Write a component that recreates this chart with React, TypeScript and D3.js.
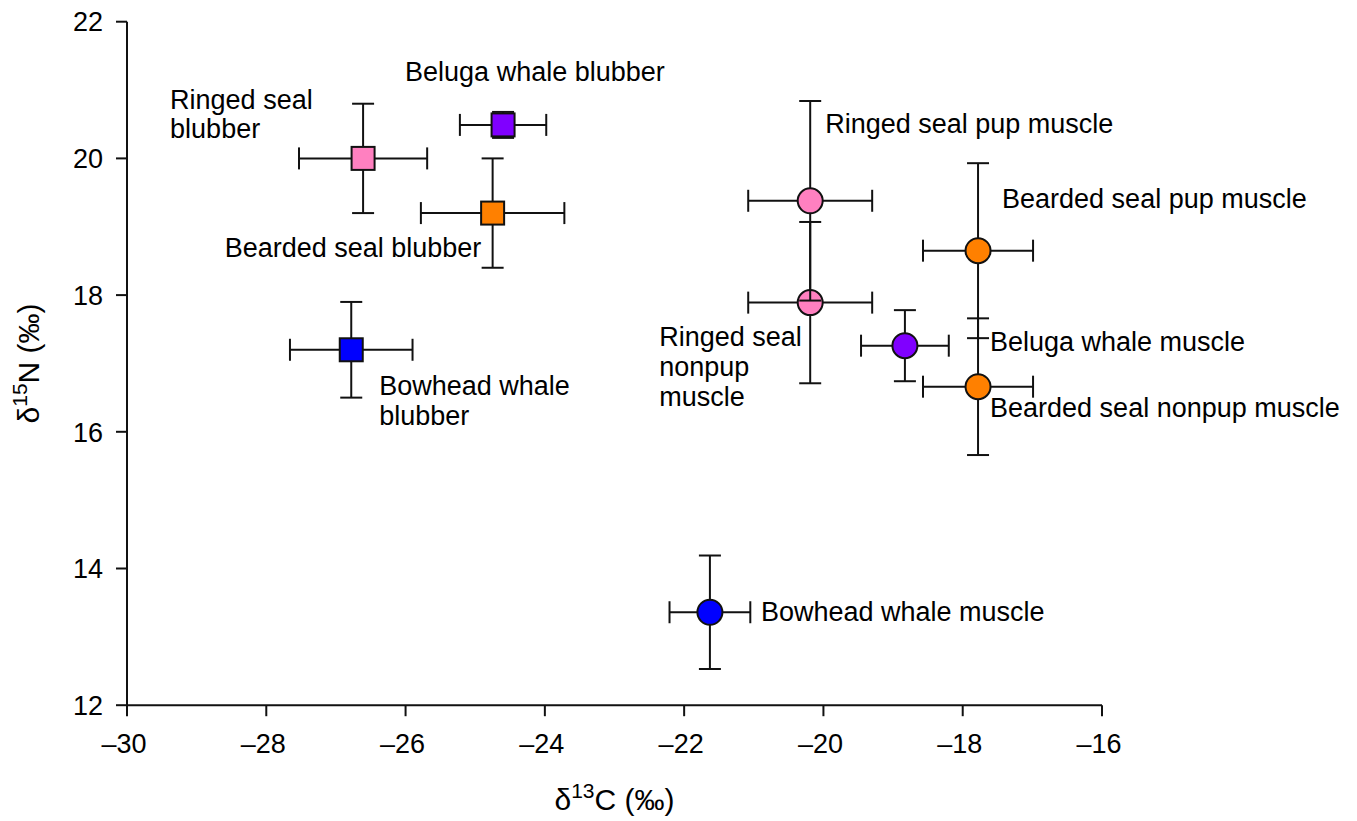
import React from "react";
import * as d3 from "d3";

// ---- data ----
const names = [
  "Ringed seal blubber",
  "Beluga whale blubber",
  "Bearded seal blubber",
  "Bowhead whale blubber",
  "Ringed seal nonpup muscle",
  "Ringed seal pup muscle",
  "Bearded seal pup muscle",
  "Beluga whale muscle",
  "Bearded seal nonpup muscle",
  "Bowhead whale muscle",
];
const labelLines = [
  ["Ringed seal", "blubber"],
  ["Beluga whale blubber"],
  ["Bearded seal blubber"],
  ["Bowhead whale", "blubber"],
  ["Ringed seal", "nonpup", "muscle"],
  ["Ringed seal pup muscle"],
  ["Bearded seal pup muscle"],
  ["Beluga whale muscle"],
  ["Bearded seal nonpup muscle"],
  ["Bowhead whale muscle"],
];
const d13C = [-26.61, -24.6, -24.75, -26.78, -20.19, -20.19, -17.78, -18.83, -17.78, -21.63];
const d15N = [20.0, 20.49, 19.2, 17.2, 17.89, 19.38, 18.65, 17.26, 16.66, 13.36];
const d13CErr = [0.92, 0.62, 1.03, 0.88, 0.89, 0.89, 0.79, 0.63, 0.79, 0.58];
const d15NErr = [0.8, 0.19, 0.8, 0.7, 1.18, 1.46, 1.28, 0.52, 1.0, 0.83];
const tissue = ["blubber", "blubber", "blubber", "blubber", "muscle", "muscle", "muscle", "muscle", "muscle", "muscle"];
const species = ["ringed", "beluga", "bearded", "bowhead", "ringed", "ringed", "bearded", "beluga", "bearded", "bowhead"];

const xTicks = [-30, -28, -26, -24, -22, -20, -18, -16];
const yTicks = [12, 14, 16, 18, 20, 22];

// ---- styles / layout ----
const W = 1357;
const H = 821;
const left = 127;
const right = 1102;
const top = 21.7;
const bottom = 705.2;
const colors: Record<string, string> = {
  ringed: "#FF80C0",
  beluga: "#8000FF",
  bearded: "#FF8000",
  bowhead: "#0000FF",
};
// label offsets (px from marker centre to first-line baseline start) and line heights
const labelOffset: [number, number, number][] = [
  [-193, -49, 29],
  [-98, -44, 29],
  [-268, 44, 29],
  [28, 45, 30],
  [-151, 43, 30],
  [15, -68, 30],
  [24, -43, 30],
  [85, 5, 30],
  [12, 30, 30],
  [51, 9, 30],
];
const FONT = "'Liberation Sans', Arial, sans-serif";
const FS = 27;
const TFS = 30;
const SUP = 21;
const CAP = 11;
const SQ = 23;
const R = 12.5;

export default function App() {
  const x = d3.scaleLinear().domain([-30, -16]).range([left, right]);
  const y = d3.scaleLinear().domain([12, 22]).range([bottom, top]);
  const stroke = "#111";
  const sw = 2;

  return (
    <div style={{ position: "absolute", left: 0, top: 0 }}>
      <svg width={W} height={H} style={{ display: "block", background: "#fff" }} fontFamily={FONT}>
        {/* axes */}
        <line x1={left} x2={left} y1={top} y2={bottom} stroke={stroke} strokeWidth={sw} />
        <line x1={left} x2={right} y1={bottom} y2={bottom} stroke={stroke} strokeWidth={sw} />
        {yTicks.map((t) => (
          <g key={"y" + t}>
            <line x1={left - 11} x2={left} y1={y(t)} y2={y(t)} stroke={stroke} strokeWidth={sw} />
            <text x={103} y={y(t)} dy="0.36em" textAnchor="end" fontSize={FS} fill="#000">
              {String(t)}
            </text>
          </g>
        ))}
        {xTicks.map((t) => (
          <g key={"x" + t}>
            <line x1={x(t)} x2={x(t)} y1={bottom} y2={bottom + 11} stroke={stroke} strokeWidth={sw} />
            <text x={x(t) - 3} y={753} textAnchor="middle" fontSize={FS} fill="#000">
              {t < 0 ? "\u2013" + Math.abs(t) : String(t)}
            </text>
          </g>
        ))}
        {/* axis titles */}
        <text x={(left + right) / 2} y={810} textAnchor="middle" fontSize={TFS} fill="#000">
          <tspan>δ</tspan>
          <tspan fontSize={SUP} dy={-12}>13</tspan>
          <tspan dy={12}>C (‰)</tspan>
        </text>
        <text
          transform={`translate(39, ${(top + bottom) / 2}) rotate(-90)`}
          textAnchor="middle"
          fontSize={TFS}
          fill="#000"
        >
          <tspan>δ</tspan>
          <tspan fontSize={SUP} dy={-12}>15</tspan>
          <tspan dy={12}>N (‰)</tspan>
        </text>

        {/* points */}
        {names.map((n, i) => {
          const cx = x(d13C[i]);
          const cy = y(d15N[i]);
          const x0 = x(d13C[i] - d13CErr[i]);
          const x1 = x(d13C[i] + d13CErr[i]);
          const y0 = y(d15N[i] + d15NErr[i]);
          const y1 = y(d15N[i] - d15NErr[i]);
          const fill = colors[species[i]];
          return (
            <g key={n}>
              <g stroke={stroke} strokeWidth={sw} fill="none">
                <line x1={x0} x2={x1} y1={cy} y2={cy} />
                <line x1={x0} x2={x0} y1={cy - CAP} y2={cy + CAP} />
                <line x1={x1} x2={x1} y1={cy - CAP} y2={cy + CAP} />
                <line x1={cx} x2={cx} y1={y0} y2={y1} />
                <line x1={cx - CAP} x2={cx + CAP} y1={y0} y2={y0} />
                <line x1={cx - CAP} x2={cx + CAP} y1={y1} y2={y1} />
              </g>
              {tissue[i] === "blubber" ? (
                <rect x={cx - SQ / 2} y={cy - SQ / 2} width={SQ} height={SQ} fill={fill} stroke={stroke} strokeWidth={sw} />
              ) : (
                <circle cx={cx} cy={cy} r={R} fill={fill} stroke={stroke} strokeWidth={sw} />
              )}
            </g>
          );
        })}

        {/* labels */}
        {names.map((n, i) => {
          const cx = x(d13C[i]);
          const cy = y(d15N[i]);
          const [dx, dy, lh] = labelOffset[i];
          return (
            <text key={"l" + n} x={cx + dx} y={cy + dy} fontSize={FS} fill="#000">
              {labelLines[i].map((ln, k) => (
                <tspan key={k} x={cx + dx} dy={k === 0 ? 0 : lh}>
                  {ln}
                </tspan>
              ))}
            </text>
          );
        })}
      </svg>
    </div>
  );
}
